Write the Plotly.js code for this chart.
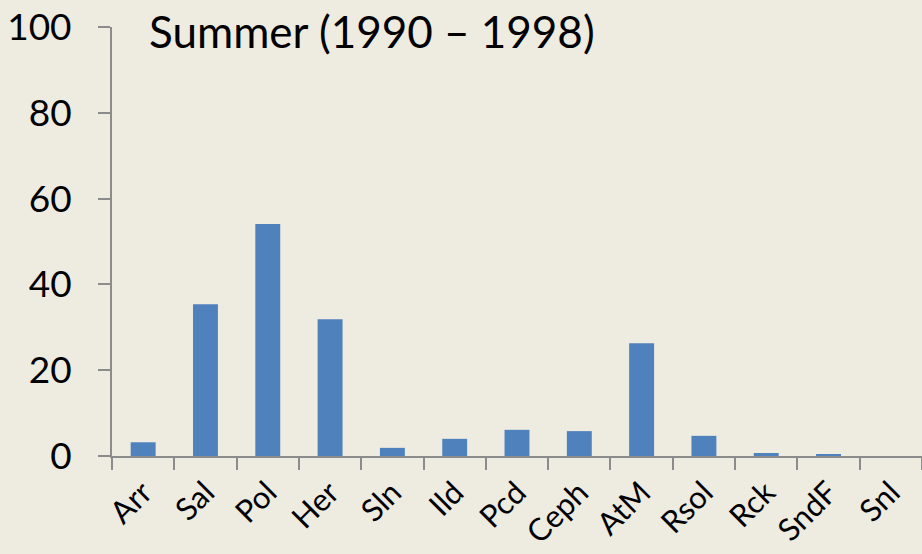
<!DOCTYPE html>
<html>
<head>
<meta charset="utf-8">
<script src="https://cdn.plot.ly/plotly-3.0.1.min.js"></script>
<style>html,body{margin:0;padding:0;background:#EEEBE1;}#chart{width:922px;height:554px;}</style>
</head>
<body>
<div id="chart"></div>
<script>
const categories = ["Arr","Sal","Pol","Her","Sln","Ild","Pcd","Ceph","AtM","Rsol","Rck","SndF","Snl"];
const values = [3.2, 35.4, 54.1, 31.9, 1.9, 4.0, 6.1, 5.8, 26.3, 4.7, 0.7, 0.3, 0];
const yTicks = [0, 20, 40, 60, 80, 100];
const titleText = "Summer (1990 \u2013 1998)";

const font = "Lato, 'Open Sans', sans-serif";
Plotly.newPlot("chart", [{
  type: "bar",
  x: categories,
  y: values,
  marker: {color: "#4F81BD"},
  hoverinfo: "x+y"
}], {
  width: 922, height: 554,
  paper_bgcolor: "#EEEBE1",
  plot_bgcolor: "#EEEBE1",
  margin: {l: 112, r: 0, t: 27, b: 98},
  bargap: 0.6,
  showlegend: false,
  font: {family: font, color: "#000000"},
  xaxis: {
    type: "category",
    range: [-0.5, 12.5],
    showline: true, linecolor: "#8C8C8C", linewidth: 2,
    ticks: "outside", tickson: "boundaries", ticklen: 12, tickwidth: 2, tickcolor: "#8C8C8C",
    tickangle: -45,
    tickfont: {family: font, size: 31, color: "#000"},
    ticklabelstandoff: 4,
    showgrid: false, zeroline: false
  },
  yaxis: {
    range: [0, 100],
    tickvals: yTicks,
    ticktext: yTicks.map(String),
    showline: true, linecolor: "#8C8C8C", linewidth: 2,
    ticks: "outside", ticklen: 12, tickwidth: 2, tickcolor: "#8C8C8C",
    tickfont: {family: font, size: 37, color: "#000"},
    ticklabelstandoff: 19,
    showgrid: false, zeroline: false
  },
  annotations: [{
    text: titleText,
    xref: "paper", yref: "paper",
    x: 0.043, y: 1.055,
    xanchor: "left", yanchor: "top",
    showarrow: false,
    font: {family: font, size: 44, color: "#000"}
  }]
}, {displayModeBar: false});
</script>
</body>
</html>
